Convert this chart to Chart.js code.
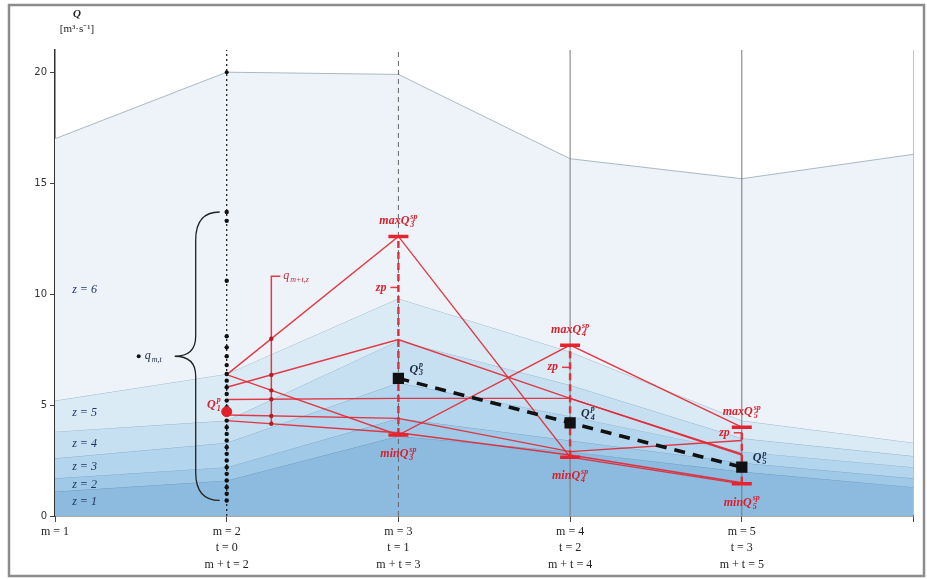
<!DOCTYPE html>
<html>
<head>
<meta charset="utf-8">
<script src="https://cdn.jsdelivr.net/npm/chart.js@4.4.1/dist/chart.umd.min.js"></script>
<style>
  html, body { margin: 0; padding: 0; background: #fff; }
  #wrap { position: relative; width: 927px; height: 579px; }
</style>
</head>
<body>
<div id="wrap"><canvas id="flow" width="927" height="579"></canvas></div>
<script>
// positions on the time axis (m = 1 .. 6)
const mPos = [1, 2, 3, 4, 5, 6];
const mLabels = ['m = 1', 'm = 2', 'm = 3', 'm = 4', 'm = 5', ''];
const tLabels = ['', 't = 0', 't = 1', 't = 2', 't = 3', ''];
const mtLabels = ['', 'm + t = 2', 'm + t = 3', 'm + t = 4', 'm + t = 5', ''];

// upper boundary of each flow zone z = 1 .. 6
const z1 = [1.1, 1.6, 3.6, 2.9, 2.0, 1.3];
const z2 = [1.7, 2.2, 4.4, 3.4, 2.4, 1.7];
const z3 = [2.6, 3.3, 6.0, 4.5, 2.9, 2.2];
const z4 = [3.8, 4.3, 7.9, 5.9, 3.5, 2.7];
const z5 = [5.2, 6.4, 9.8, 7.4, 4.3, 3.3];
const z6 = [17.0, 20.0, 19.9, 16.1, 15.2, 16.3];
const zNames = ['z = 1', 'z = 2', 'z = 3', 'z = 4', 'z = 5', 'z = 6'];
const zLabelY = [0.63, 1.4, 2.2, 3.25, 4.65, 10.2];

// scenario paths, values at m = 2, 3, 4, 5
const scenX = [2, 3, 4, 5];
const scen1 = [6.37, 12.6, 2.65, 1.45];
const scen2 = [6.37, 3.65, 7.7, 4.0];
const scen3 = [5.8, 7.95, 5.3, 2.75];
const scen4 = [5.25, 5.3, 5.3, 2.8];
const scen5 = [4.55, 4.4, 2.9, 3.4];
const scen6 = [4.3, 3.75, 2.75, 1.5];

// forecast Q^p at m = 3, 4, 5 and the zp marks
const qpX = [3, 4, 5];
const qp = [6.2, 4.2, 2.2];
const zp = [10.3, 6.7, 3.75];

// observed q_{m,t} values at m = 2 and Q1
const qmt = [13.7, 13.3, 10.6, 8.1, 7.6, 7.2, 6.8, 6.4, 6.1, 5.8, 5.5, 5.2, 4.9, 4.6, 4.3,
             4.0, 3.7, 3.4, 3.1, 2.8, 2.5, 2.2, 1.9, 1.6, 1.3, 1.0, 0.7];
const q1 = 4.7;

// q_{m+t,z} bracket
const bracketX = 2.26;
const bracketLow = 4.2;
const bracketHigh = 10.8;

const Y_MAX = 21;
const yTicks = [0, 5, 10, 15, 20];

const RED = 'rgba(226, 38, 50, 0.9)';
const zColors = ['#8cbbdf', '#9fc9e7', '#b3d5ee', '#c6e0f2', '#dbebf6', '#eef3fa'];
const zLines = ['#6f9cc0', '#7fa9c8', '#8db2cc', '#98b8cc', '#a3bccc', '#a9b9c3'];

const layers = [z1, z2, z3, z4, z5, z6];
const scens = [scen1, scen2, scen3, scen4, scen5, scen6];
const maxQ = qpX.map((m, k) => Math.max(...scens.map(s => s[k + 1])));
const minQ = qpX.map((m, k) => Math.min(...scens.map(s => s[k + 1])));

const pts = (xs, ys) => xs.map((x, i) => ({x: x, y: ys[i]}));

const datasets = [];

// zone areas
layers.forEach((arr, i) => {
    datasets.push({
        data: pts(mPos, arr),
        fill: i === 0 ? 'origin' : '-1',
        backgroundColor: zColors[i],
        borderColor: zLines[i],
        borderWidth: 1,
        pointRadius: i === 5 ? (c => c.dataIndex === 1 ? 2 : 0) : 0,
        pointBackgroundColor: '#111',
        pointBorderWidth: 0,
        order: 30 - i,
    });
});

// vertical guides
const guideX = [2, 3, 4, 5, 6];
const guideStyle = [
    {color: '#222', dash: [2, 3], width: 1.3},
    {color: '#666', dash: [5, 4], width: 1},
    {color: '#777', dash: [], width: 1},
    {color: '#777', dash: [], width: 1},
    {color: '#888', dash: [], width: 1},
];
guideX.forEach((m, i) => {
    datasets.push({
        data: [{x: m, y: 0}, {x: m, y: Y_MAX}],
        borderColor: guideStyle[i].color,
        borderDash: guideStyle[i].dash,
        borderWidth: guideStyle[i].width,
        pointRadius: 0,
        fill: false,
        order: 20,
    });
});

// scenario lines
scens.forEach(s => {
    datasets.push({
        data: pts(scenX, s),
        borderColor: RED,
        borderWidth: 1.4,
        pointRadius: 0,
        fill: false,
        order: 10,
    });
});

// red min-max ranges
qpX.forEach((m, k) => {
    datasets.push({
        data: [{x: m, y: minQ[k]}, {x: m, y: maxQ[k]}],
        borderColor: RED,
        borderDash: [7, 4],
        borderWidth: 2.5,
        pointRadius: 0,
        fill: false,
        order: 9,
    });
});

// min/max caps
datasets.push({
    data: pts(qpX, maxQ).concat(pts(qpX, minQ)),
    showLine: false,
    pointStyle: 'line',
    pointRadius: 10,
    pointBorderWidth: 3.5,
    pointBorderColor: '#e8222e',
    order: 3,
});

// q_{m,t} dots
datasets.push({
    data: qmt.map(v => ({x: 2, y: v})),
    showLine: false,
    pointRadius: 2.2,
    pointBackgroundColor: '#111',
    pointBorderWidth: 0,
    order: 4,
});

// forecast line
datasets.push({
    data: pts(qpX, qp),
    borderColor: '#111',
    borderWidth: 3.5,
    borderDash: [11, 8],
    pointStyle: 'rect',
    pointRadius: 5.5,
    pointBackgroundColor: '#111',
    pointBorderColor: '#111',
    fill: false,
    order: 2,
});

// Q1 point
datasets.push({
    data: [{x: 2, y: q1}],
    showLine: false,
    pointRadius: 5,
    pointBackgroundColor: '#e0202c',
    pointBorderColor: '#e0202c',
    order: 1,
});

function richText(ctx, x, y, base, sub, sup, color, size, align, bold) {
    const w = bold ? 'bold ' : '';
    const bigFont = 'italic ' + w + size + 'px "Liberation Serif"';
    const smallFont = 'italic ' + w + Math.round(size * 0.68) + 'px "Liberation Serif"';
    ctx.font = bigFont;
    const wBase = ctx.measureText(base).width;
    ctx.font = smallFont;
    const wSub = sub ? ctx.measureText(sub).width : 0;
    const wSup = sup ? ctx.measureText(sup).width : 0;
    const total = wBase + Math.max(wSub, wSup) + 1;
    let x0 = x;
    if (align === 'center') x0 = x - total / 2;
    if (align === 'right') x0 = x - total;
    ctx.fillStyle = color;
    ctx.textAlign = 'left';
    ctx.textBaseline = 'middle';
    ctx.font = bigFont;
    ctx.fillText(base, x0, y);
    ctx.font = smallFont;
    if (sup) ctx.fillText(sup, x0 + wBase + 1, y - size * 0.38);
    if (sub) ctx.fillText(sub, x0 + wBase + 1, y + size * 0.32);
}

const notes = {
    id: 'notes',
    afterDatasetsDraw(chart) {
        const ctx = chart.ctx;
        const xs = chart.scales.x, ys = chart.scales.y;
        const px = v => xs.getPixelForValue(v);
        const py = v => ys.getPixelForValue(v);
        ctx.save();

        // zone labels
        zNames.forEach((t, i) => {
            ctx.font = 'italic 12px "Liberation Serif"';
            ctx.fillStyle = '#1d3560';
            ctx.textAlign = 'left';
            ctx.textBaseline = 'middle';
            ctx.fillText(t, px(1.1), py(zLabelY[i]));
        });

        // brace around q_{m,t}
        const top = py(Math.max(...qmt)), bot = py(Math.min(...qmt));
        const mid = (top + bot) / 2;
        const xe = px(2) - 7, xs2 = px(2) - 31, xt = px(2) - 52;
        ctx.strokeStyle = '#222';
        ctx.lineWidth = 1.3;
        ctx.setLineDash([]);
        ctx.beginPath();
        ctx.moveTo(xe, top);
        ctx.quadraticCurveTo(xs2, top, xs2, top + 28);
        ctx.lineTo(xs2, mid - 20);
        ctx.quadraticCurveTo(xs2, mid, xt, mid);
        ctx.quadraticCurveTo(xs2, mid, xs2, mid + 20);
        ctx.lineTo(xs2, bot - 28);
        ctx.quadraticCurveTo(xs2, bot, xe, bot);
        ctx.stroke();
        ctx.fillStyle = '#111';
        ctx.beginPath();
        ctx.arc(xt - 36, mid, 2, 0, Math.PI * 2);
        ctx.fill();
        richText(ctx, xt - 30, mid, 'q', 'm,t', '', '#1d2a44', 12, 'left', false);

        // q_{m+t,z} bracket
        const bx = px(bracketX);
        ctx.strokeStyle = RED;
        ctx.lineWidth = 1.5;
        ctx.beginPath();
        ctx.moveTo(bx, py(bracketLow));
        ctx.lineTo(bx, py(bracketHigh));
        ctx.lineTo(bx + 9, py(bracketHigh));
        ctx.stroke();
        richText(ctx, bx + 12, py(bracketHigh), 'q', 'm+t,z', '', '#c0303a', 12, 'left', false);
        const f = (bracketX - 2);
        ctx.fillStyle = '#b01e28';
        scens.forEach(s => {
            const v = s[0] + f * (s[1] - s[0]);
            ctx.beginPath();
            ctx.arc(bx, py(v), 2.2, 0, Math.PI * 2);
            ctx.fill();
        });

        // zp ticks
        qpX.forEach((m, k) => {
            ctx.strokeStyle = RED;
            ctx.lineWidth = 1.5;
            ctx.beginPath();
            ctx.moveTo(px(m) - 8, py(zp[k]));
            ctx.lineTo(px(m), py(zp[k]));
            ctx.stroke();
            richText(ctx, px(m) - 11, py(zp[k]), 'zp', '', '', '#d8202c', 12, 'right', true);
        });

        // max / min labels
        qpX.forEach((m, k) => {
            richText(ctx, px(m), py(maxQ[k]) - 15, 'maxQ', String(m), 'sp', '#d8202c', 12, 'center', true);
            richText(ctx, px(m), py(minQ[k]) + 19, 'minQ', String(m), 'sp', '#d8202c', 12, 'center', true);
        });

        // forecast labels
        qpX.forEach((m, k) => {
            richText(ctx, px(m) + 11, py(qp[k]) - 9, 'Q', String(m), 'p', '#1d2a44', 12, 'left', true);
        });
        richText(ctx, px(2) - 6, py(q1) - 7, 'Q', '1', 'p', '#d8202c', 12, 'right', true);

        ctx.restore();
    },
    afterDraw(chart) {
        const ctx = chart.ctx;
        const a = chart.chartArea;
        ctx.save();
        // axis title
        ctx.fillStyle = '#222';
        ctx.textAlign = 'center';
        ctx.textBaseline = 'middle';
        ctx.font = 'italic bold 11px "Liberation Serif"';
        ctx.fillText('Q', a.left + 22, 14);
        ctx.font = '11px "Liberation Serif"';
        ctx.fillText('[m³·s⁻¹]', a.left + 22, 29);
        // frame
        ctx.strokeStyle = '#8c8c8c';
        ctx.lineWidth = 2.5;
        ctx.strokeRect(9, 5, 915, 571);
        ctx.restore();
    }
};

new Chart(document.getElementById('flow'), {
    type: 'line',
    data: {datasets: datasets},
    options: {
        responsive: false,
        animation: false,
        layout: {padding: {top: 50, right: 5, bottom: 0, left: 0}},
        plugins: {
            legend: {display: false},
            tooltip: {enabled: false},
        },
        elements: {line: {tension: 0}},
        scales: {
            x: {
                type: 'linear',
                min: 1,
                max: 6,
                afterBuildTicks: s => { s.ticks = mPos.map(v => ({value: v})); },
                afterFit: s => { s.height = 63; },
                ticks: {
                    autoSkip: false,
                    maxRotation: 0,
                    padding: 1,
                    color: '#222',
                    font: {family: 'Liberation Serif', size: 12, lineHeight: 1.4},
                    callback: v => {
                        const i = mPos.indexOf(v);
                        return [mLabels[i], tLabels[i], mtLabels[i]].filter(t => t);
                    },
                },
                grid: {drawOnChartArea: false, drawTicks: true, tickLength: 6, color: '#444'},
                border: {color: '#555', width: 1.5},
            },
            y: {
                min: 0,
                max: Y_MAX,
                afterBuildTicks: s => { s.ticks = yTicks.map(v => ({value: v})); },
                afterFit: s => { s.width = 55; },
                ticks: {
                    padding: 3,
                    color: '#333',
                    font: {family: 'DejaVu Sans', size: 10},
                },
                grid: {drawOnChartArea: false, drawTicks: true, tickLength: 5, color: '#444'},
                border: {color: '#333', width: 1.5},
            },
        },
    },
    plugins: [notes],
});
</script>
</body>
</html>
